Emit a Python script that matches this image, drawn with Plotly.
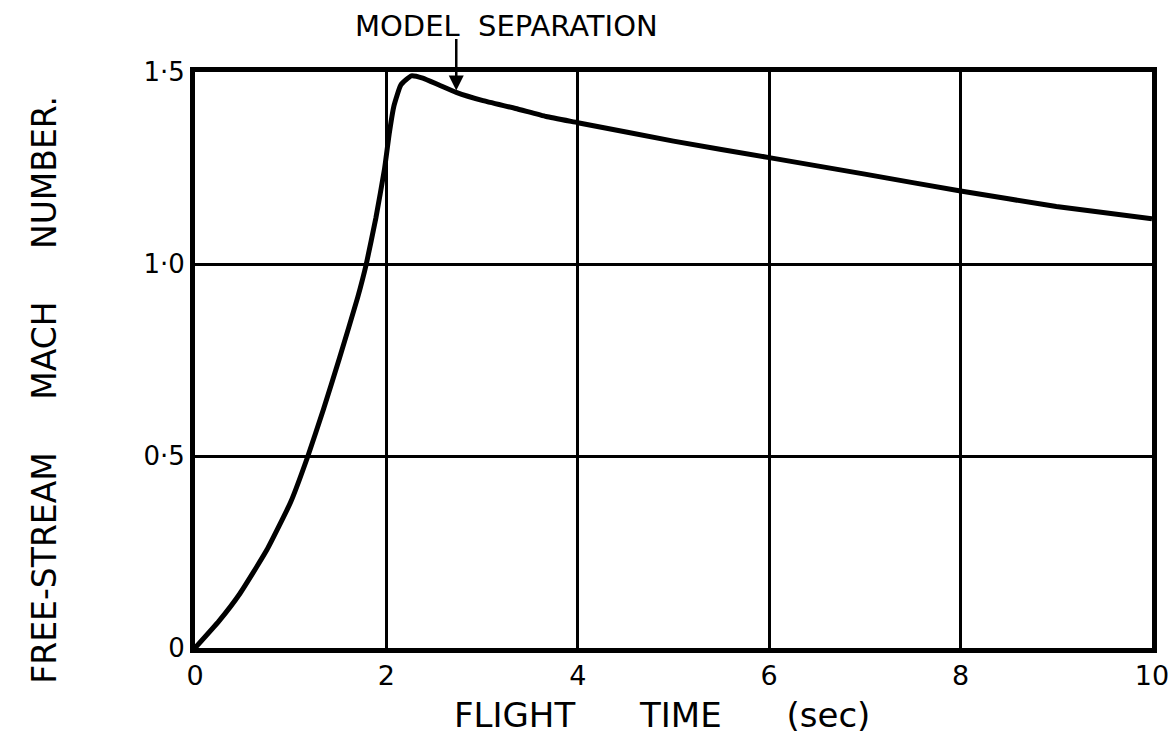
import plotly.graph_objects as go

# Data
flight_time = [0, 0.25, 0.47, 0.75, 1.0, 1.18, 1.34, 1.51, 1.70, 1.79, 1.89, 1.98,
               2.03, 2.08, 2.15, 2.26, 2.38, 2.55, 2.73, 3.0, 3.35, 3.67, 4, 5, 6, 7,
               8, 9, 10]
mach_number = [0, 0.07, 0.142, 0.255, 0.38, 0.5, 0.62, 0.755, 0.913, 1.0, 1.12, 1.247,
               1.34, 1.413, 1.466, 1.49, 1.484, 1.466, 1.447, 1.426, 1.405, 1.384,
               1.368, 1.32, 1.277, 1.234, 1.19, 1.15, 1.118]

x_ticks = [0, 2, 4, 6, 8, 10]
x_tick_text = ["0", "2", "4", "6", "8", "10"]
y_ticks = [0, 0.5, 1.0, 1.5]
y_tick_text = ["0", "0·5", "1·0", "1·5"]

separation_time = 2.73
separation_mach = 1.447

FONT = "DejaVu Sans"

fig = go.Figure()
fig.add_trace(go.Scatter(
    x=flight_time, y=mach_number, mode="lines",
    line=dict(color="black", width=5, shape="spline", smoothing=0.4),
    showlegend=False, hoverinfo="skip",
))

# Arrow marking model separation
fig.add_annotation(
    x=separation_time, y=separation_mach + 0.005, xref="x", yref="y",
    ax=separation_time, ay=1.59, axref="x", ayref="y",
    showarrow=True, arrowhead=2, arrowsize=1.2, arrowwidth=2.5, arrowcolor="black",
    text="",
)
fig.add_annotation(
    x=0.325, y=1.08, xref="paper", yref="paper",
    text="MODEL  SEPARATION", showarrow=False,
    font=dict(family=FONT, size=29, color="black"),
    xanchor="center", yanchor="middle",
)
# Axis titles
fig.add_annotation(
    x=0.488, y=-0.116, xref="paper", yref="paper",
    text="FLIGHT      TIME      (sec)", showarrow=False,
    font=dict(family=FONT, size=34, color="black"),
    xanchor="center", yanchor="middle",
)
fig.add_annotation(
    x=-0.157, y=0.448, xref="paper", yref="paper",
    text="FREE-STREAM     MACH     NUMBER.", showarrow=False, textangle=-90,
    font=dict(family=FONT, size=33, color="black"),
    xanchor="center", yanchor="middle",
)

fig.update_layout(
    width=1168, height=742,
    margin=dict(l=195, r=16, t=72, b=94, autoexpand=False),
    paper_bgcolor="white", plot_bgcolor="white",
    font=dict(family=FONT, color="black"),
    xaxis=dict(
        range=[0, 10], tickvals=x_ticks, ticktext=x_tick_text,
        showgrid=True, gridcolor="black", gridwidth=2.5,
        showline=True, linecolor="black", linewidth=5, mirror=True,
        zeroline=False, ticks="", tickfont=dict(size=27, family=FONT),
        ticklabeloverflow="allow", automargin=False,
    ),
    yaxis=dict(
        range=[0, 1.5], tickvals=y_ticks, ticktext=y_tick_text,
        showgrid=True, gridcolor="black", gridwidth=2.5,
        showline=True, linecolor="black", linewidth=5, mirror=True,
        zeroline=False, ticks="", tickfont=dict(size=26, family=FONT),
        automargin=False,
    ),
)

fig.write_html(
    "out.html",
    config={"displayModeBar": False},
    post_script="document.body.style.margin='0px'; document.body.style.overflow='hidden';",
)
